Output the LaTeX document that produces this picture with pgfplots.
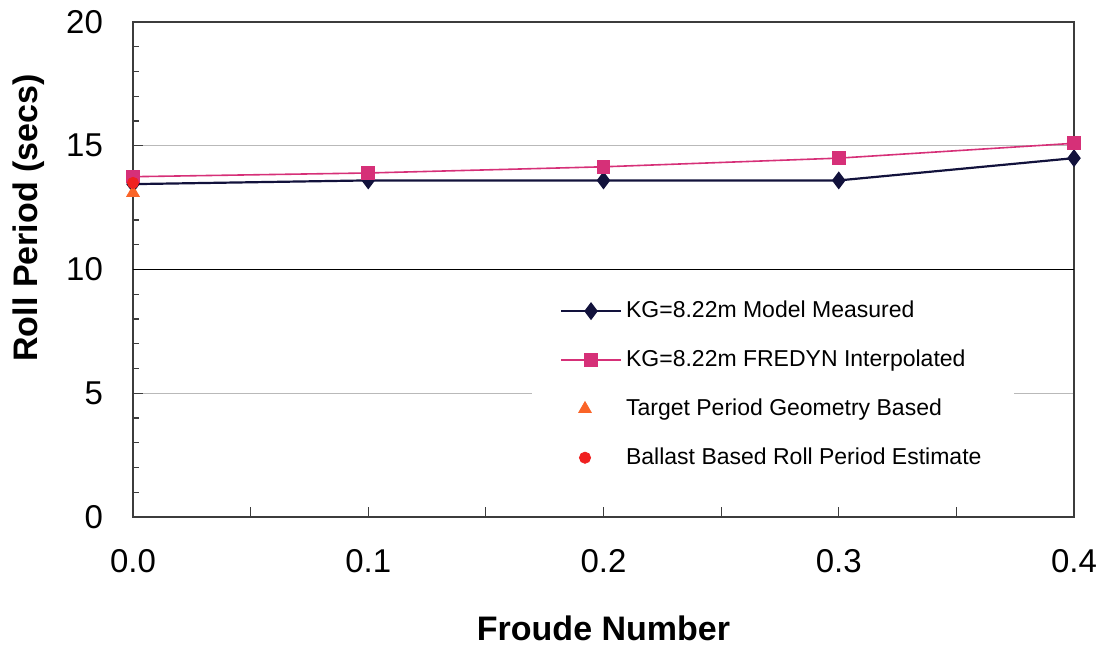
\documentclass[border=0pt]{standalone}
\usepackage{fontspec}
\setmainfont{Liberation Sans}
\usepackage{pgfplots}
\pgfplotsset{compat=1.18}

\definecolor{measured}{RGB}{18,18,60}
\definecolor{fredyn}{RGB}{214,48,120}
\definecolor{target}{RGB}{250,100,40}
\definecolor{ballast}{RGB}{240,32,32}
\definecolor{axisgray}{RGB}{60,60,60}

% legend samples: a 30pt line with a centred mark, or a single mark
\pgfplotsset{
  lineleg/.style={legend image code/.code={\draw[mark repeat=2,mark phase=2,##1] plot coordinates {(0pt,0pt) (15pt,0pt) (30pt,0pt)};}},
  markleg/.style={legend image code/.code={\draw[##1] plot coordinates {(12pt,0pt)};}},
}

\begin{document}
\begin{tikzpicture}
\begin{axis}[
  scale only axis,
  width=470.5pt, height=247.5pt,
  xmin=0, xmax=0.4, ymin=0, ymax=20,
  xtick={0,0.1,0.2,0.3,0.4},
  extra x ticks={0.05,0.15,0.25,0.35},
  extra x tick labels={},
  extra x tick style={grid=none},
  ytick={0,5,10,15,20},
  minor y tick num=4,
  tick align=inside,
  xtick pos=bottom, ytick pos=left,
  major tick length=5pt, minor tick length=3pt,
  tick style={axisgray, line width=0.6pt},
  axis line style={axisgray, line width=0.8pt},
  ymajorgrids,
  major grid style={gray!55, line width=0.7pt},
  /pgf/number format/assume math mode=true,
  xticklabel={\pgfmathprintnumber[fixed,fixed zerofill,precision=1]{\tick}},
  tick label style={font=\fontsize{16.5}{18}\selectfont},
  xticklabel style={yshift=-12.5pt},
  yticklabel style={xshift=-11.5pt},
  xlabel={\textbf{Froude Number}},
  ylabel={\textbf{Roll Period (secs)}},
  label style={font=\fontsize{17}{19}\selectfont},
  xlabel style={at={(axis description cs:0.5,-0.2242)}, anchor=center},
  ylabel style={at={(axis description cs:-0.1105,0.604)}, anchor=center},
  legend style={
    at={(rel axis cs:0.4235,0.477)}, anchor=north west,
    draw=none, fill=white,
    font=\fontsize{11.5}{13}\selectfont,
    inner xsep=14pt, inner ysep=8pt,
    row sep=10.6pt,
    legend cell align=left,
  },
]
% y = 10 reference line drawn darker than the other grid lines
\addplot[black, line width=0.8pt, forget plot] coordinates {(0,10) (0.4,10)};

\addplot[measured, line width=1.1pt, mark=diamond*, mark size=3.6pt,
  mark options={fill=measured, draw=measured}, lineleg]
  coordinates {(0,13.45) (0.1,13.6) (0.2,13.6) (0.3,13.6) (0.4,14.5)};
\addlegendentry{KG=8.22m Model Measured}

\addplot[fredyn, line width=0.8pt, mark=square*, mark size=3pt,
  mark options={fill=fredyn, draw=fredyn}, lineleg]
  coordinates {(0,13.75) (0.1,13.9) (0.2,14.15) (0.3,14.5) (0.4,15.1)};
\addlegendentry{KG=8.22m FREDYN Interpolated}

\addplot[only marks, mark=triangle*, mark size=3.6pt, color=target, markleg]
  coordinates {(0,13.1)};
\addlegendentry{Target Period Geometry Based}

\addplot[only marks, mark=*, mark size=2.8pt, color=ballast, markleg]
  coordinates {(0,13.5)};
\addlegendentry{Ballast Based Roll Period Estimate}
\end{axis}
\pgfresetboundingbox
\path (current axis.south west) ++(-66.5pt,-64pt) rectangle ++(553pt,322.5pt);
\end{tikzpicture}
\end{document}
